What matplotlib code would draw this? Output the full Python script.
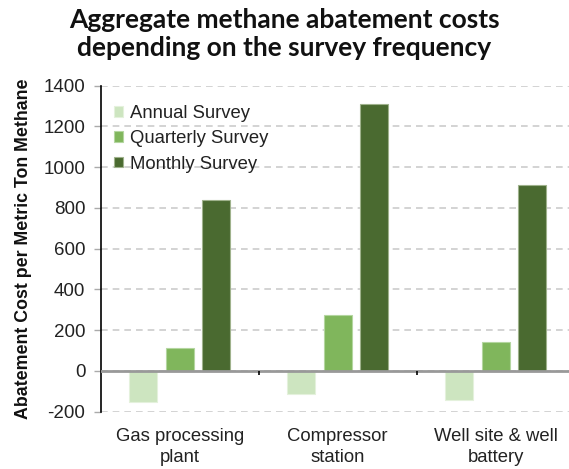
import matplotlib
matplotlib.use("Agg")
import matplotlib.pyplot as plt
import numpy as np

categories = ["Gas processing\nplant", "Compressor\nstation", "Well site & well\nbattery"]
series_names = ["Annual Survey", "Quarterly Survey", "Monthly Survey"]
annual = [-150, -115, -145]
quarterly = [114, 277, 143]
monthly = [838, 1308, 915]
colors = ["#cde5c0", "#80b65c", "#4a6a30"]
edge_colors = ["#e4f1dc", "#b4d6a0", "#9fb28c"]
yticks = [-200, 0, 200, 400, 600, 800, 1000, 1200, 1400]

plt.rcParams['font.family'] = ['Liberation Sans', 'DejaVu Sans']

fig = plt.figure(figsize=(5.69, 4.69), dpi=100)
ax = fig.add_axes([0.177, 0.1222, 0.823, 0.695])

x = np.arange(len(categories))
offset = 0.231
width = 0.177
for i, (vals, name) in enumerate(zip([annual, quarterly, monthly], series_names)):
    ax.bar(x + (i - 1) * offset, vals, width, color=colors[i], edgecolor=edge_colors[i],
           linewidth=0.8, label=name, zorder=3)

ax.set_xlim(-0.5, 2.464)
ax.set_ylim(-200, 1400)
ax.set_yticks(yticks)
ax.set_yticklabels([str(v) for v in yticks], fontsize=13.5, color="#222222")
ax.yaxis.grid(True, linestyle=(0, (4, 3)), color="#cccccc", linewidth=1.2, zorder=0)
ax.set_axisbelow(True)
ax.axhline(0, color="#999999", linewidth=2, zorder=4)
ax.vlines([0.5, 1.5], -22, 0, color="black", linewidth=1.2, zorder=5)

ax.set_xticks(x)
ax.set_xticklabels(categories, fontsize=13.3, color="#222222", linespacing=1.3)
ax.tick_params(axis='x', length=0, pad=12)
ax.tick_params(axis='y', length=5, color="#aaaaaa", width=1, pad=6)

for s in ["top", "right", "bottom"]:
    ax.spines[s].set_visible(False)
ax.spines["left"].set_color("black")
ax.spines["left"].set_linewidth(1.2)

ax.set_ylabel("Abatement Cost per Metric Ton Methane", fontsize=12.8, fontweight="bold",
              color="#111111", labelpad=8)

leg = ax.legend(loc="upper left", bbox_to_anchor=(0.005, 0.975), frameon=False, fontsize=13.3,
                handlelength=0.5, handleheight=0.5, handletextpad=0.35, labelspacing=0.45,
                borderaxespad=0.2)
for t in leg.get_texts():
    t.set_color("#222222")

fig.text(0.5, 0.982, "Aggregate methane abatement costs\ndepending on the survey frequency",
         ha="center", va="top", fontsize=19, fontweight="bold", family="Lato",
         linespacing=1.2, color="#111111")

fig.savefig("out.png", dpi=100)
